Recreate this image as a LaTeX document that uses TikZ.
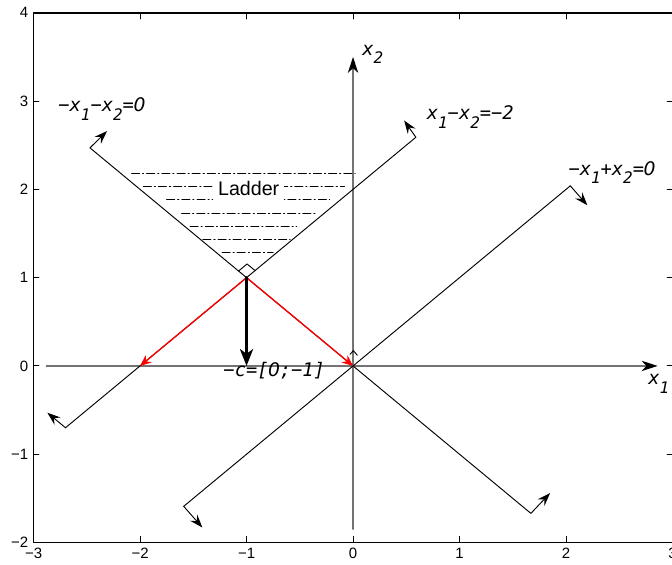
\documentclass[tikz,border=0pt]{standalone}
\usepackage{fontspec}
\usepackage{tikz}
\usetikzlibrary{arrows.meta}
\setmainfont{Liberation Sans}
\newfontfamily\etiq{DejaVu Sans Mono}
\newfontfamily\dejasans{DejaVu Sans}
% subindice bajado, como en el grafico original
\newcommand{\bajo}[1]{\raisebox{-0.45em}{\fontsize{8.5}{9}\selectfont #1}}
% cero sin punto, con el ancho de la letra mono
\newcommand{\cero}{\makebox[0.602em]{\dejasans\itshape 0}}

\begin{document}
\begin{tikzpicture}[x=2cm, y=1.658cm, line cap=round, line join=round,
    recta/.style={line width=0.5pt},
    normal/.style={line width=0.5pt, -{Stealth[length=7pt, width=5pt, inset=2.5pt]}},
    eje/.style={black!55, line width=0.6pt, -{Stealth[black, length=8.5pt, width=5.5pt, inset=2.5pt]}},
    rojo/.style={red, line width=0.7pt, -{Stealth[length=6pt, width=5pt, inset=2pt]}},
    numero/.style={font=\fontsize{8}{9}\selectfont, inner sep=1pt},
    etiqueta/.style={font=\etiq\itshape\fontsize{10}{12}\selectfont, inner sep=0pt}]

\useasboundingbox (-3.315,-2.254) rectangle (2.995,4.145);

% === MARCO Y MARCAS ===
\draw[line width=1pt] (3,4) -- (-3,4) -- (-3,-2) -- (3,-2);
\foreach \x in {-2,...,2}{
    \draw[line width=0.5pt] (\x,-2) -- (\x,-1.93);
    \draw[line width=0.5pt] (\x,4) -- (\x,3.93);
}
\foreach \y in {-1,...,3}{
    \draw[line width=0.5pt] (-3,\y) -- (-2.95,\y);
    \draw[line width=0.5pt] (3,\y) -- (2.95,\y);
}
% Numeros de los ejes
\foreach \x/\t in {-3/−3,-2/−2,-1/−1,0/0,1/1,2/2,3/3}{
    \node[numero] (nx\t) at (\x,-2.125) {\t};
}
\foreach \y/\t in {-2/−2,-1/−1,0/0,1/1,2/2,3/3,4/4}{
    \node[numero, anchor=east] (ny\t) at (-3.03,\y) {\t};
}

% === EJES x1, x2 ===
\draw[eje] (-2.88,0) -- (2.86,0);
\draw[eje] (0,-1.85) -- (0,3.5);
\node[etiqueta, anchor=base west] (ejex) at (2.77,-0.215) {x\bajo{1}};
\node[etiqueta, anchor=base west] (ejey) at (0.085,3.52) {x\bajo{2}};

% === ESCALERA (lineas punto y raya) ===
\foreach \y/\a/\b in {2.18/-2.08/0.02, 2.03/-1.97/-0.08, 1.88/-1.75/-0.22,
        1.73/-1.61/-0.33, 1.58/-1.53/-0.53, 1.43/-1.41/-0.59, 1.28/-1.23/-0.75}{
    \draw[line width=0.5pt, dash pattern=on 4.3pt off 1.6pt on 0.6pt off 1.6pt] (\a,\y) -- (\b,\y);
}
\node[fill=white, inner sep=2.5pt, font=\fontsize{10.5}{12}\selectfont] (escalera) at (-0.98,2.01) {Ladder};

% === RECTAS DE RESTRICCION ===
\draw[recta] (-2.47,2.47) -- (1.67,-1.67);
\draw[recta] (-2.70,-0.70) -- (0.59,2.59);
\draw[recta] (-1.59,-1.59) -- (2.04,2.04);
% Vectores normales en los extremos
\draw[normal] (-2.47,2.47) -- (-2.31,2.66);
\draw[normal] (1.67,-1.67) -- (1.85,-1.44);
\draw[normal] (-2.70,-0.70) -- (-2.87,-0.53);
\draw[normal] (0.59,2.59) -- (0.48,2.78);
\draw[normal] (-1.59,-1.59) -- (-1.415,-1.83);
\draw[normal] (2.04,2.04) -- (2.2,1.82);
% Etiquetas de las rectas
\node[etiqueta, anchor=base west] (r1) at (-2.77,2.88) {−x\bajo{1}−x\bajo{2}=\cero};
\node[etiqueta, anchor=base west] (r2) at (0.69,2.79) {x\bajo{1}−x\bajo{2}=−2};
\node[etiqueta, anchor=base west] (r3) at (2.02,2.16) {−x\bajo{1}+x\bajo{2}=\cero};

% === VERTICE Y DIRECCIONES ===
\coordinate (vertice) at (-1,1);
\coordinate (corte) at (-2,0);
\coordinate (origen) at (0,0);
% Marcas de angulo recto
\draw[recta] (-1.075,1.075) -- (-0.995,1.155) -- (-0.92,1.08);
\draw[recta] (-0.028,0.132) -- (0.003,0.173) -- (0.04,0.121);
% Flechas rojas por las aristas
\draw[rojo] (vertice) -- (corte);
\draw[rojo] (vertice) -- (origen);
% Direccion -c (negra y gruesa)
\draw[line width=1.8pt, -{Stealth[length=9pt, width=7pt, inset=2.5pt]}] (vertice) -- (-1,0);
\node[etiqueta, anchor=base west] (menosc) at (-1.22,-0.12) {−c=[\cero;−1]};

\end{tikzpicture}
\end{document}
